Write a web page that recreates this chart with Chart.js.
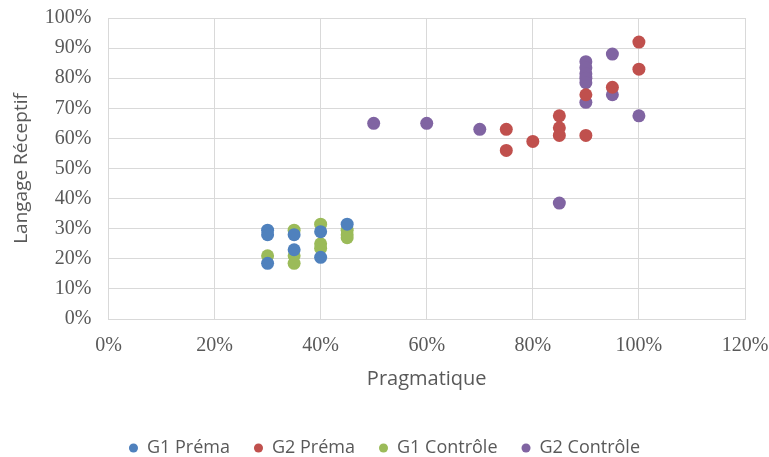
<!DOCTYPE html>
<html><head><meta charset="utf-8">
<script src="https://cdn.jsdelivr.net/npm/chart.js@4/dist/chart.umd.min.js"></script>
<style>html,body{margin:0;padding:0;background:#fff}#wrap{width:769px;height:457px}</style>
</head><body><div id="wrap"><canvas id="c" width="769" height="457"></canvas></div>
<script>
const seriesNames = ["G1 Préma", "G2 Préma", "G1 Contrôle", "G2 Contrôle"];
const seriesColors = ["#4F81BD", "#C0504D", "#9BBB59", "#8064A2"];
const g1PremaX = [0.30, 0.30, 0.30, 0.35, 0.35, 0.40, 0.40, 0.45];
const g1PremaY = [0.295, 0.28, 0.185, 0.28, 0.23, 0.29, 0.205, 0.315];
const g2PremaX = [0.75, 0.75, 0.80, 0.85, 0.85, 0.85, 0.90, 0.90, 0.95, 1.00, 1.00];
const g2PremaY = [0.63, 0.56, 0.59, 0.675, 0.635, 0.61, 0.61, 0.745, 0.77, 0.92, 0.83];
const g1ControleX = [0.30, 0.35, 0.35, 0.35, 0.40, 0.40, 0.40, 0.45, 0.45, 0.45];
const g1ControleY = [0.21, 0.295, 0.21, 0.185, 0.315, 0.25, 0.235, 0.295, 0.28, 0.27];
const g2ControleX = [0.50, 0.60, 0.70, 0.85, 0.90, 0.90, 0.90, 0.90, 0.90, 0.90, 0.95, 0.95, 1.00];
const g2ControleY = [0.65, 0.65, 0.63, 0.385, 0.855, 0.835, 0.815, 0.80, 0.785, 0.72, 0.88, 0.745, 0.675];
const xTitle = "Pragmatique";
const yTitle = "Langage Réceptif";

function pts(xs, ys){ return xs.map((x,i)=>({x:x, y:ys[i]})); }
const allX = [g1PremaX, g2PremaX, g1ControleX, g2ControleX];
const allY = [g1PremaY, g2PremaY, g1ControleY, g2ControleY];
const datasets = seriesNames.map((n,i)=>({
  label:n, data:pts(allX[i], allY[i]),
  backgroundColor:seriesColors[i], borderColor:seriesColors[i],
  pointRadius:6.5, pointBorderWidth:0, pointHoverRadius:6.5
}));
const pct = v => Math.round(v*100) + "%";
const grid = {color:"#d9d9d9", lineWidth:1, drawTicks:false};
new Chart(document.getElementById("c"), {
  type:"scatter",
  data:{datasets},
  options:{
    responsive:false, animation:false, devicePixelRatio:1,
    layout:{padding:{top:0, right:0, left:0, bottom:-10}},
    plugins:{
      legend:{position:"bottom", padding:0, labels:{usePointStyle:true, pointStyle:"circle", boxWidth:9, boxHeight:6.4, padding:24, color:"#595959", font:{family:"Open Sans", size:18}}},
      tooltip:{enabled:false}
    },
    scales:{
      x:{type:"linear", min:0, max:1.2,
        afterFit:(s)=>{ s.paddingRight = 24; },
        ticks:{stepSize:0.2, autoSkip:false, maxRotation:0, callback:pct, color:"#595959", padding:15, font:{family:"Liberation Serif", size:20}},
        grid:grid, border:{color:"#d9d9d9"},
        title:{display:true, text:xTitle, color:"#595959", font:{family:"Open Sans", size:20}, padding:{top:-6, bottom:24}}},
      y:{type:"linear", min:0, max:1,
        afterFit:(s)=>{ s.paddingTop = 18; s.width -= 5; },
        ticks:{stepSize:0.1, autoSkip:false, callback:pct, color:"#595959", padding:17, font:{family:"Liberation Serif", size:20}},
        grid:grid, border:{color:"#d9d9d9"},
        title:{display:true, text:yTitle, color:"#595959", font:{family:"Open Sans", size:19}, padding:{top:10, bottom:0}}}
    }
  }
});
</script></body></html>
